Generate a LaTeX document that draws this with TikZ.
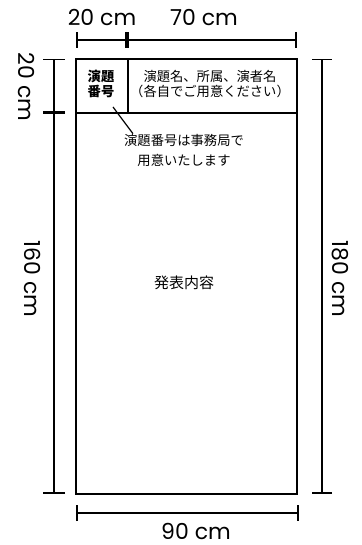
\documentclass[tikz,border=0pt]{standalone}
\usepackage{fontspec}
\setmainfont{Poppins}
\newfontfamily\jafont{Noto Sans CJK JP}
\usetikzlibrary{arrows.meta}
\tikzset{
  dimline/.style={line width=1.6pt,{Bar[width=#1,line width=1.6pt]}-{Bar[width=#1,line width=1.6pt]}},
  dimlabel/.style={font=\fontsize{22}{22}\selectfont,inner sep=0pt},
  jtext/.style={font=\jafont\fontsize{13.3}{15.5}\selectfont,align=center,inner sep=1pt},
}

\begin{document}
\begin{tikzpicture}[x=1pt,y=-1pt]
%
\def\L{76}
\def\R{297}
\def\T{58.7}
\def\H{112.7}
\def\B{494}
\def\M{128}
%
\useasboundingbox (0,0) rectangle (361,545);
%
\coordinate (tl) at (\L,\T);
\coordinate (br) at (\R,\B);
\draw[line width=1.7pt] (tl) rectangle (br);
\draw[line width=1.7pt] (\L,\H) -- (\R,\H);
\draw[line width=1.7pt] (\M,\T) -- (\M,\H);
%
\node[jtext,font=\jafont\bfseries\fontsize{13.3}{15.5}\selectfont] (num) at (101,84) {演題\\番号};
\node[jtext] (title) at (210,84) {演題名、所属、演者名\\（各自でご用意ください）};
\node[jtext,font=\jafont\fontsize{13.3}{20}\selectfont] (note) at (184,150) {演題番号は事務局で\\用意いたします};
\node[jtext,font=\jafont\fontsize{15}{15}\selectfont] (body) at (184,283) {発表内容};
%
\coordinate (lead) at (113,107);
\draw[line width=1.2pt] (lead) -- ([xshift=10pt,yshift=-1pt]note.north west);
%
% top
\draw[dimline=16pt] (\L,40) -- (127,40);
\draw[dimline=16pt] (127,40) -- (\R,40);
\node[dimlabel] (w20) at (102,17.5) {20 cm};
\node[dimlabel] (w70) at (204,17.5) {70 cm};
%
% left
\draw[dimline=22pt] (54,\T) -- (54,\H);
\draw[dimline=22pt] (54,\H) -- (54,\B);
\node[dimlabel,rotate=-90] (h20) at (26,87) {20 cm};
\node[dimlabel,rotate=-90] (h160) at (33,279) {160 cm};
%
% right
\draw[dimline=20pt] (322,\T) -- (322,\B);
\node[dimlabel,rotate=-90] (h180) at (340,279) {180 cm};
%
% bottom
\draw[dimline=16pt] (\L,513) -- (299,513);
\node[dimlabel] (w90) at (196,531) {90 cm};
%
\end{tikzpicture}
\end{document}
